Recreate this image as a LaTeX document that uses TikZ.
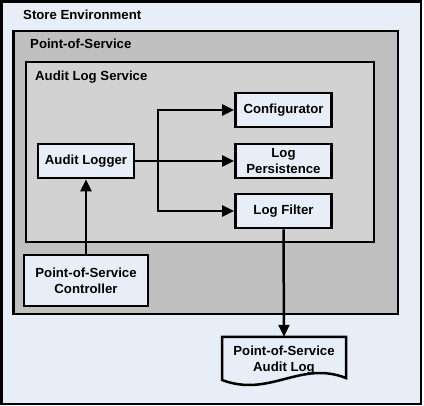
\documentclass[tikz,border=0pt]{standalone}
\usepackage{fontspec}
\setmainfont{Liberation Sans}
\usetikzlibrary{arrows.meta}
\definecolor{lblue}{RGB}{232,238,248}
\definecolor{posgray}{RGB}{192,192,192}
\definecolor{alsgray}{RGB}{210,210,210}
\begin{document}
\begin{tikzpicture}[x=1pt,y=-1pt,
  container/.style={draw, line width=2.6pt},
  comp/.style={draw, line width=2.7pt, fill=lblue, align=center, inner sep=0pt, font=\fontsize{13.2}{16}\selectfont\bfseries},
  title/.style={anchor=west, inner sep=0pt, font=\fontsize{13.2}{16}\selectfont\bfseries},
  conn/.style={line width=2.5pt, -{Triangle[length=12pt,width=11pt]}},
  plain/.style={line width=2.5pt}]
\useasboundingbox (0,0) rectangle (424,406);
% containers
\draw[container, fill=lblue] (1.5,1.5) rectangle (421,404);
\node[title] (tstore) at (23,15) {Store Environment};
\draw[container, fill=posgray] (13.5,31) rectangle (398,314);
\node[title] (tpos) at (30,44) {Point-of-Service};
\draw[container, fill=alsgray] (26,62) rectangle (374,242);
\node[title] (tals) at (35,77) {Audit Log Service};
% components
\node[comp, minimum width=96, minimum height=34] (al) at (86,161) {Audit Logger};
\node[comp, minimum width=96, minimum height=34] (cfg) at (283.5,110) {Configurator};
\node[comp, minimum width=96, minimum height=34] (lp) at (283.5,161) {Log\\Persistence};
\node[comp, minimum width=96, minimum height=34] (lf) at (283.5,211) {Log Filter};
\node[comp, minimum width=124, minimum height=51] (ctrl) at (86,280.5) {Point-of-Service\\Controller};
% document
\node[inner sep=0pt, minimum width=124, minimum height=46] (doc) at (284,360) {};
\draw[line width=2.5pt, fill=lblue] (222,337) -- (346,337) -- (346,378)
   .. controls (300,360) and (270,398) .. (222,380) -- cycle;
\node[inner sep=0pt, align=center, font=\fontsize{13.2}{16}\selectfont\bfseries] (doctext) at (284,360) {Point-of-Service\\Audit Log};
% connectors
\coordinate (br) at (158,161);
\draw[conn] (ctrl.north) -- (al.south);
\draw[plain] (al.east) -- (br);
\draw[conn] (br) |- (cfg.west);
\draw[conn] (br) -- (lp.west);
\draw[conn] (br) |- (lf.west);
\draw[conn] (lf.south) -- (doc.north);
\end{tikzpicture}
\end{document}
